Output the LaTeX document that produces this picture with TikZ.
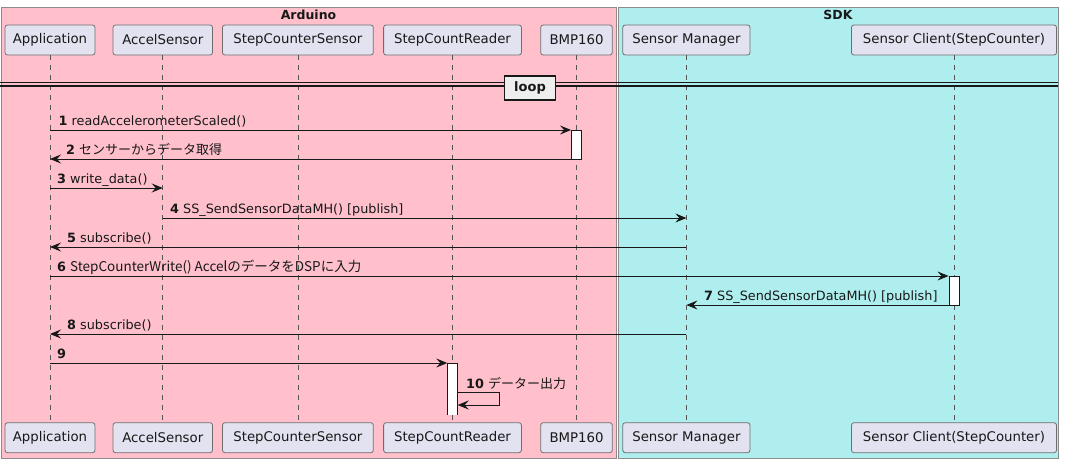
\documentclass[tikz,border=0pt]{standalone}
\usepackage{fontspec}
\setmainfont{DejaVu Sans}
\newfontfamily\jp{Noto Sans CJK JP}
\usetikzlibrary{arrows.meta}
\definecolor{ardpink}{HTML}{FFC0CB}
\definecolor{sdkcyan}{HTML}{AFEEEE}
\definecolor{partfill}{HTML}{E2E2F0}
\definecolor{partdraw}{HTML}{6E6E6E}
\definecolor{boxdraw}{HTML}{8C8C8C}
\definecolor{lifecol}{HTML}{555555}
\definecolor{loopfill}{HTML}{EEEEEE}
\definecolor{ink}{HTML}{181818}
\begin{document}
\begin{tikzpicture}[x=1pt,y=-1pt,
 part/.style={draw=partdraw, fill=partfill, rounded corners=2.5pt, line width=0.8pt, minimum height=30pt, inner sep=0pt, font=\fontsize{13.3}{15}\selectfont, text=ink},
 grp/.style={draw=boxdraw, line width=0.9pt},
 grptitle/.style={inner sep=0pt, font=\bfseries\fontsize{12.5}{15}\selectfont, text=ink},
 life/.style={draw=lifecol, line width=0.7pt, dash pattern=on 5pt off 5pt},
 msg/.style={draw=ink, line width=0.9pt, -{Stealth[length=11pt,width=9pt,inset=4pt]}},
 lbl/.style={anchor=base west, inner sep=0pt, font=\fontsize{12.8}{15}\selectfont, text=ink},
 act/.style={draw=ink, fill=white, line width=0.9pt, minimum width=10pt, inner sep=0pt, anchor=north},
 divline/.style={draw=ink, line width=1.2pt},
]
\useasboundingbox (0,0) rectangle (1065,463);

% group boxes
\filldraw[grp, fill=ardpink] (1,7) rectangle (616.3,458.3);
\filldraw[grp, fill=sdkcyan] (618.3,7) rectangle (1058,458.3);
\node[grptitle] (ardt) at (308.5,15) {Arduino};
\node[grptitle] (sdkt) at (838,15) {SDK};

% participants (top)
\node[part, minimum width=90pt]    (appT) at (50,40)    {Application};
\node[part, minimum width=99.5pt]  (accT) at (162.75,40) {AccelSensor};
\node[part, minimum width=150.8pt] (scsT) at (297.9,40) {StepCounterSensor};
\node[part, minimum width=137.8pt] (scrT) at (452.5,40) {StepCountReader};
\node[part, minimum width=71.6pt]  (bmpT) at (576.5,40) {BMP160};
\node[part, minimum width=127.2pt] (smT)  at (686.4,40) {Sensor Manager};
\node[part, minimum width=205pt]   (scT)  at (954,40)   {Sensor Client(StepCounter)};
% participants (bottom)
\node[part, minimum width=90pt]    (appB) at (50,437.7)    {Application};
\node[part, minimum width=99.5pt]  (accB) at (162.75,437.7) {AccelSensor};
\node[part, minimum width=150.8pt] (scsB) at (297.9,437.7) {StepCounterSensor};
\node[part, minimum width=137.8pt] (scrB) at (452.5,437.7) {StepCountReader};
\node[part, minimum width=71.6pt]  (bmpB) at (576.5,437.7) {BMP160};
\node[part, minimum width=127.2pt] (smB)  at (686.4,437.7) {Sensor Manager};
\node[part, minimum width=205pt]   (scB)  at (954,437.7)   {Sensor Client(StepCounter)};

% lifelines
\foreach \p in {app,acc,scs,scr,bmp,sm,sc}
  \draw[life] (\p T.south) -- (\p B.north);

% loop divider
\coordinate (dl) at (0,86);
\coordinate (dr) at (1058,86);
\draw[divline] (dl) -- (dr);
\draw[divline] ([yshift=3.3pt]dl) -- ([yshift=3.3pt]dr);
\node[draw=ink, fill=loopfill, line width=1.8pt, minimum width=51pt, minimum height=24pt, inner sep=0pt,
      font=\bfseries\fontsize{13}{15}\selectfont, text=ink] (loop) at (530,88) {loop};

% rows
\coordinate (r1) at (0,130);
\coordinate (r2) at (0,159);
\coordinate (r3) at (0,188);
\coordinate (r4) at (0,218);
\coordinate (r5) at (0,247);
\coordinate (r6) at (0,276);
\coordinate (r7) at (0,305);
\coordinate (r8) at (0,334);
\coordinate (r9) at (0,363);
\coordinate (r10a) at (0,392.7);
\coordinate (r10b) at (0,405);
\coordinate (selfx) at (499.3,0);

% activations
\node[act, minimum height=29pt] (a1) at (bmpT |- r1) {};
\node[act, minimum height=29pt] (a2) at (scT |- r6) {};
\node[fill=white, minimum width=10pt, minimum height=51.3pt, inner sep=0pt, anchor=north] (a3) at (scrT |- r9) {};
\draw[ink, line width=0.9pt] (a3.south west) -- (a3.north west) -- (a3.north east) -- (a3.south east);

% messages
\draw[msg] (appT |- r1) -- (a1.west |- r1);
\draw[msg] (a1.west |- r2) -- (appT |- r2);
\draw[msg] (appT |- r3) -- (accT |- r3);
\draw[msg] (accT |- r4) -- (smT |- r4);
\draw[msg] (smT |- r5) -- (appT |- r5);
\draw[msg] (appT |- r6) -- (a2.west |- r6);
\draw[msg] (a2.west |- r7) -- (smT |- r7);
\draw[msg] (smT |- r8) -- (appT |- r8);
\draw[msg] (appT |- r9) -- (a3.west |- r9);
\draw[msg] (a3.east |- r10a) -- (selfx |- r10a) -- (selfx |- r10b) -- (a3.east |- r10b);

% labels
\node[lbl] (l1) at (58.5,125) {\textbf{1} readAccelerometerScaled()};
\node[lbl] (l2) at (66,154) {\textbf{2} {\jp\fontsize{13}{15}\selectfont センサーからデータ取得}};
\node[lbl] (l3) at (57,183) {\textbf{3} write\_data()};
\node[lbl] (l4) at (170,213) {\textbf{4} SS\_SendSensorDataMH() [publish]};
\node[lbl] (l5) at (67,242) {\textbf{5} subscribe()};
\node[lbl] (l6) at (57,271) {\textbf{6} {\jp\fontsize{13.5}{15}\selectfont StepCounterWrite() AccelのデータをDSPに入力}};
\node[lbl] (l7) at (704,300) {\textbf{7} SS\_SendSensorDataMH() [publish]};
\node[lbl] (l8) at (67,329) {\textbf{8} subscribe()};
\node[lbl] (l9) at (57,358) {\textbf{9}};
\node[lbl] (l10) at (466,388) {\textbf{10} {\jp\fontsize{13}{15}\selectfont データー出力}};
\end{tikzpicture}
\end{document}
